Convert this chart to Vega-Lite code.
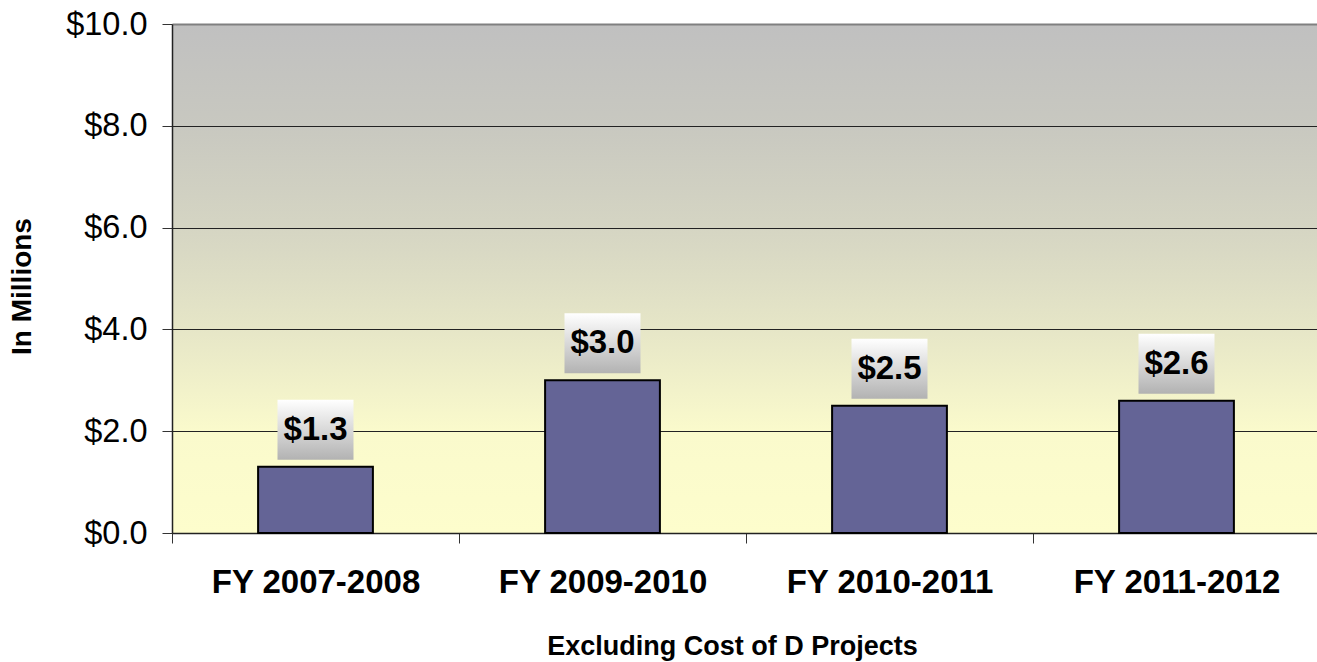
{
  "$schema": "https://vega.github.io/schema/vega-lite/v6.json",
  "autosize": "none",
  "width": 1148,
  "height": 509,
  "padding": {"left": 172, "top": 24, "right": 0, "bottom": 129},
  "background": "#ffffff",
  "data": {"values": [
    {"period": "FY 2007-2008", "value": 1.3},
    {"period": "FY 2009-2010", "value": 3.0},
    {"period": "FY 2010-2011", "value": 2.5},
    {"period": "FY 2011-2012", "value": 2.6}
  ]},
  "encoding": {
    "x": {
      "field": "period", "type": "nominal", "sort": null,
      "scale": {"paddingInner": 0.6, "paddingOuter": 0.3},
      "axis": {
        "title": "Excluding Cost of D Projects",
        "titleFont": "Liberation Sans", "titleFontSize": 27, "titleFontWeight": "bold", "titleColor": "#000000",
        "titleX": 560, "titleY": 121, "titleBaseline": "alphabetic", "titleAlign": "center",
        "labelFont": "Liberation Sans", "labelFontSize": 33, "labelFontWeight": "bold", "labelColor": "#000000",
        "labelAngle": 0, "labelPadding": 23, "labelLimit": 0, "labelOffset": 143.5,
        "tickOffset": -143.5, "tickSize": 10, "tickColor": "#333333", "tickWidth": 1,
        "domainColor": "#222222", "domainWidth": 1.5, "grid": false
      }
    }
  },
  "layer": [
    {
      "mark": {"type": "bar", "fill": "#646496", "stroke": "#000000", "strokeWidth": 2},
      "encoding": {
        "y": {
          "field": "value", "type": "quantitative",
          "scale": {"domain": [0, 10], "nice": false},
          "axis": {
            "title": "In Millions",
            "titleFont": "Liberation Sans", "titleFontSize": 28, "titleFontWeight": "bold", "titleColor": "#000000",
            "titleAngle": -90, "titleX": -150, "titleY": 262, "titleAlign": "center", "titleBaseline": "middle",
            "values": [0, 2, 4, 6, 8, 10], "format": "$.1f",
            "labelFont": "Liberation Sans", "labelFontSize": 32.5, "labelColor": "#000000", "labelPadding": 15,
            "tickSize": 10, "tickColor": "#333333", "tickWidth": 1,
            "domainColor": "#222222", "domainWidth": 1.5,
            "grid": true,
            "gridColor": {"condition": {"test": "datum.value == 10", "value": "#808080"}, "value": "#222222"},
            "gridWidth": {"condition": {"test": "datum.value == 10", "value": 2}, "value": 1}
          }
        }
      }
    },
    {
      "mark": {
        "type": "bar", "width": 76, "yOffset": -7, "y2Offset": -67,
        "fill": {"gradient": "linear", "x1": 0, "y1": 0, "x2": 0, "y2": 1,
                 "stops": [{"offset": 0, "color": "#ffffff"}, {"offset": 1, "color": "#b2b2b2"}]}
      },
      "encoding": {
        "y": {"field": "value", "type": "quantitative"},
        "y2": {"field": "value"}
      }
    },
    {
      "mark": {"type": "text", "dy": -37, "baseline": "middle", "align": "center",
               "font": "Liberation Sans", "fontSize": 33, "fontWeight": "bold", "color": "#000000"},
      "encoding": {
        "y": {"field": "value", "type": "quantitative"},
        "text": {"field": "value", "type": "quantitative", "format": "$.1f"}
      }
    }
  ],
  "config": {
    "view": {
      "stroke": null,
      "fill": {"gradient": "linear", "x1": 0, "y1": 0, "x2": 0, "y2": 1,
               "stops": [
                 {"offset": 0, "color": "#c0c0c0"},
                 {"offset": 0.2, "color": "#c8c8c0"},
                 {"offset": 0.4, "color": "#d5d5c3"},
                 {"offset": 0.6, "color": "#e6e6c7"},
                 {"offset": 0.8, "color": "#fafacc"},
                 {"offset": 1, "color": "#fdfdcc"}
               ]}
    }
  }
}
